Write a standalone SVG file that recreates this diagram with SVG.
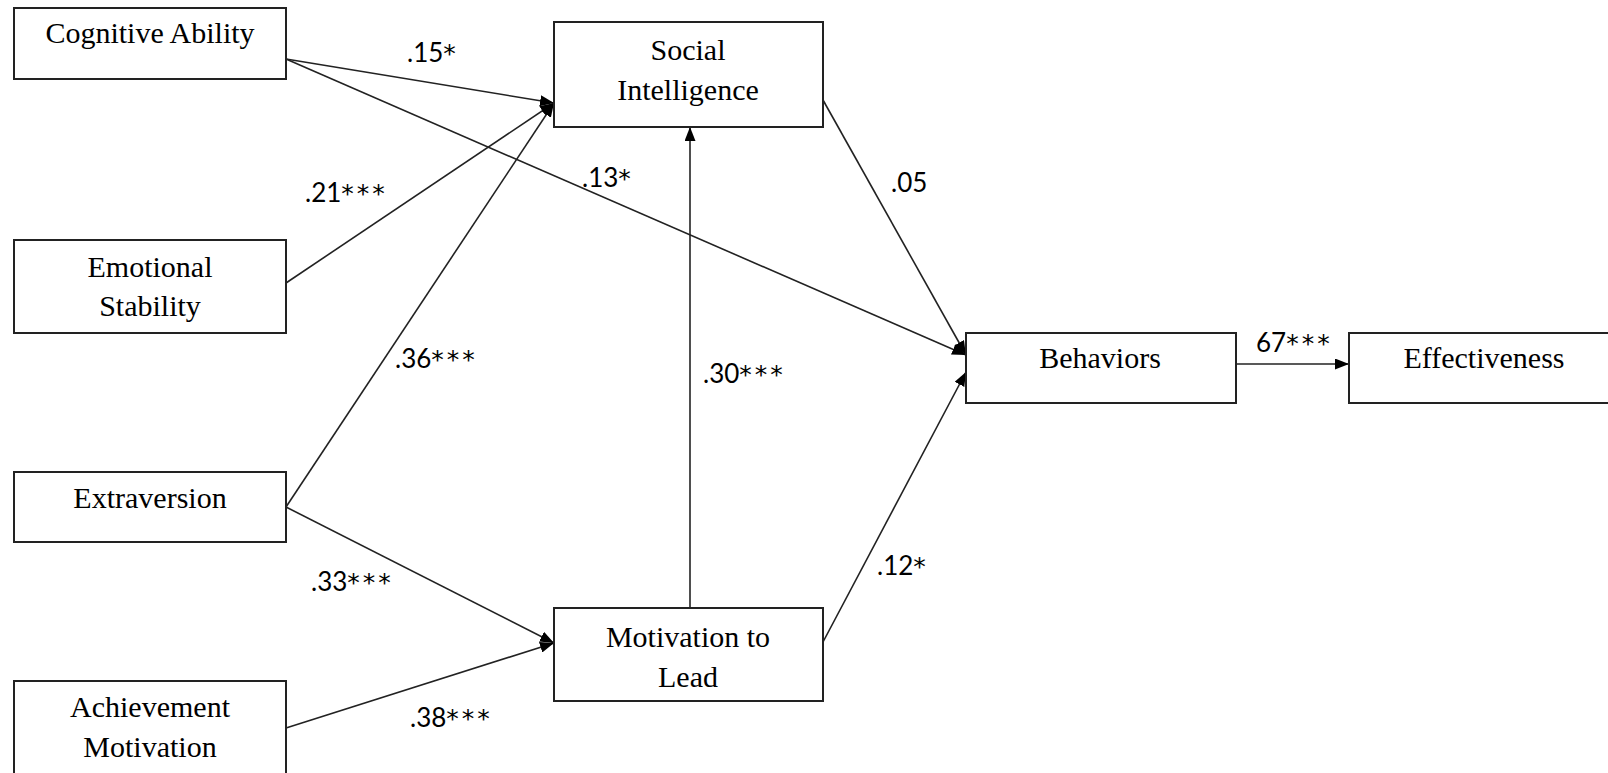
<svg xmlns="http://www.w3.org/2000/svg" width="1608" height="773" viewBox="0 0 1608 773">
<style>
.box{fill:#fff;stroke:#222;stroke-width:2}
.nt{font-family:"Liberation Serif","Times New Roman",serif;font-size:30px;fill:#000;text-anchor:middle}
.ln{stroke:#222;stroke-width:1.6;fill:none;marker-end:url(#ah)}
.lb{font-family:Lato,"Liberation Sans",sans-serif;font-size:26px;fill:#000}
.st{font-family:"DejaVu Sans",sans-serif;font-size:25px;letter-spacing:3px}
</style>
<defs>
<marker id="ah" markerUnits="userSpaceOnUse" markerWidth="15" markerHeight="11" refX="14" refY="5.5" orient="auto">
<path d="M0,0 L14,5.5 L0,11 z" fill="#000"/>
</marker>
</defs>
<rect width="1608" height="773" fill="#fff"/>
<g id="connectors">
<line class="ln" x1="286" y1="59" x2="554" y2="103"/>
<line class="ln" x1="286" y1="59" x2="966" y2="355"/>
<line class="ln" x1="286" y1="283" x2="554" y2="103"/>
<line class="ln" x1="286" y1="507" x2="554" y2="103"/>
<line class="ln" x1="286" y1="507" x2="554" y2="643"/>
<line class="ln" x1="286" y1="728" x2="554" y2="643"/>
<line class="ln" x1="690" y1="608" x2="690" y2="127"/>
<line class="ln" x1="823" y1="100" x2="966" y2="355"/>
<line class="ln" x1="823" y1="642" x2="966" y2="372"/>
<line class="ln" x1="1236" y1="364" x2="1349" y2="364"/>
<text class="lb" x="407" y="62">.15<tspan class="st">*</tspan></text>
<text class="lb" x="582" y="187">.13<tspan class="st">*</tspan></text>
<text class="lb" x="305" y="202">.21<tspan class="st">***</tspan></text>
<text class="lb" x="395" y="368">.36<tspan class="st">***</tspan></text>
<text class="lb" x="311" y="591">.33<tspan class="st">***</tspan></text>
<text class="lb" x="410" y="727">.38<tspan class="st">***</tspan></text>
<text class="lb" x="703" y="383">.30<tspan class="st">***</tspan></text>
<text class="lb" x="891" y="192">.05</text>
<text class="lb" x="877" y="575">.12<tspan class="st">*</tspan></text>
<text class="lb" x="1256" y="352">67<tspan class="st">***</tspan></text>
</g>
<g id="cognitive-ability">
<rect class="box" x="14" y="8" width="272" height="71"/>
<text class="nt" x="150" y="43">Cognitive Ability</text>
</g>
<g id="emotional-stability">
<rect class="box" x="14" y="240" width="272" height="93"/>
<text class="nt" x="150" y="277">Emotional</text>
<text class="nt" x="150" y="316">Stability</text>
</g>
<g id="extraversion">
<rect class="box" x="14" y="472" width="272" height="70"/>
<text class="nt" x="150" y="508">Extraversion</text>
</g>
<g id="achievement-motivation">
<rect class="box" x="14" y="681" width="272" height="100"/>
<text class="nt" x="150" y="717">Achievement</text>
<text class="nt" x="150" y="757">Motivation</text>
</g>
<g id="social-intelligence">
<rect class="box" x="554" y="22" width="269" height="105"/>
<text class="nt" x="688" y="60">Social</text>
<text class="nt" x="688" y="100">Intelligence</text>
</g>
<g id="motivation-to-lead">
<rect class="box" x="554" y="608" width="269" height="93"/>
<text class="nt" x="688" y="647">Motivation to</text>
<text class="nt" x="688" y="687">Lead</text>
</g>
<g id="behaviors">
<rect class="box" x="966" y="333" width="270" height="70"/>
<text class="nt" x="1100" y="368">Behaviors</text>
</g>
<g id="effectiveness">
<rect class="box" x="1349" y="333" width="270" height="70"/>
<text class="nt" x="1484" y="368">Effectiveness</text>
</g>
</svg>
